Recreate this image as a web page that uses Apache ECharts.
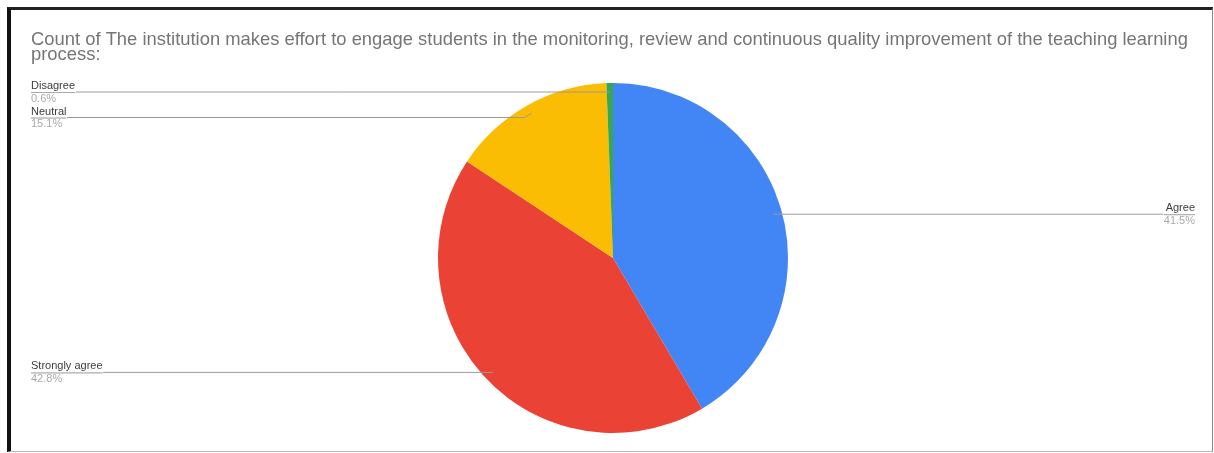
<!DOCTYPE html>
<html>
<head>
<meta charset="utf-8">
<script src="https://cdn.jsdelivr.net/npm/echarts@6/dist/echarts.min.js"></script>
<style>
  html, body { margin: 0; padding: 0; background: #fff; }
  #chart { position: absolute; left: 0; top: 0; width: 1214px; height: 453px; }
  #frame { position: absolute; left: 7px; top: 7px; width: 1201px; height: 441px;
           border-left: 4px solid #111; border-top: 3px solid #222;
           border-right: 1px solid #888; border-bottom: 1px solid #bbb; pointer-events: none; }
</style>
</head>
<body>
<div id="chart"></div>
<div id="frame"></div>
<script>
const titleText = 'Count of The institution makes effort to engage students in the monitoring, review and continuous quality improvement of the teaching learning\nprocess:';
const categories = ['Agree', 'Strongly agree', 'Neutral', 'Disagree'];
const percents = [41.5, 42.8, 15.1, 0.6];
const colors = ['#4285F4', '#EA4335', '#FBBC04', '#34A853'];
const edgeDist = [19, 31, 31, 31];

const chart = echarts.init(document.getElementById('chart'), null, { renderer: 'canvas' });

const pieData = categories.map((c, i) => ({ name: c, value: percents[i], itemStyle: { color: colors[i] } }));
const labelData = categories.map((c, i) => ({
  name: c, value: percents[i],
  label: { edgeDistance: edgeDist[i] }
}));

chart.setOption({
  animation: false,
  title: {
    text: titleText,
    left: 26, top: 27,
    textStyle: { fontFamily: 'Liberation Sans, Arial, sans-serif', fontSize: 18.4, fontWeight: 'normal', color: '#757575', lineHeight: 15 }
  },
  series: [
    {
      type: 'pie',
      center: [613, 258],
      radius: 175,
      startAngle: 90,
      clockwise: true,
      z: 2,
      label: { show: false },
      labelLine: { show: false },
      itemStyle: { borderWidth: 0 },
      emphasis: { disabled: true },
      data: pieData
    },
    {
      type: 'pie',
      center: [613, 258],
      radius: 166,
      startAngle: 90,
      clockwise: true,
      z: 5,
      silent: true,
      itemStyle: { color: 'rgba(0,0,0,0)', borderWidth: 0 },
      emphasis: { disabled: true },
      label: {
        show: true,
        position: 'outer',
        alignTo: 'edge',
        distanceToLabelLine: 0,
        formatter: function (p) { return '{n|' + p.name + '}\n{hr|}\n{p|' + p.value.toFixed(1) + '%}'; },
        rich: {
          n: { fontFamily: 'Liberation Sans, Arial, sans-serif', fontSize: 11, color: '#3c3c3c', lineHeight: 13 },
          hr: { width: '100%', height: 0, borderWidth: 0.6, borderColor: '#999' },
          p: { fontFamily: 'Liberation Sans, Arial, sans-serif', fontSize: 11, color: '#aaa', lineHeight: 12 }
        }
      },
      labelLine: {
        show: true,
        length: 0,
        length2: 20,
        smooth: false,
        lineStyle: { color: '#9a9a9a', width: 1 }
      },
      data: labelData
    }
  ]
});
</script>
</body>
</html>
